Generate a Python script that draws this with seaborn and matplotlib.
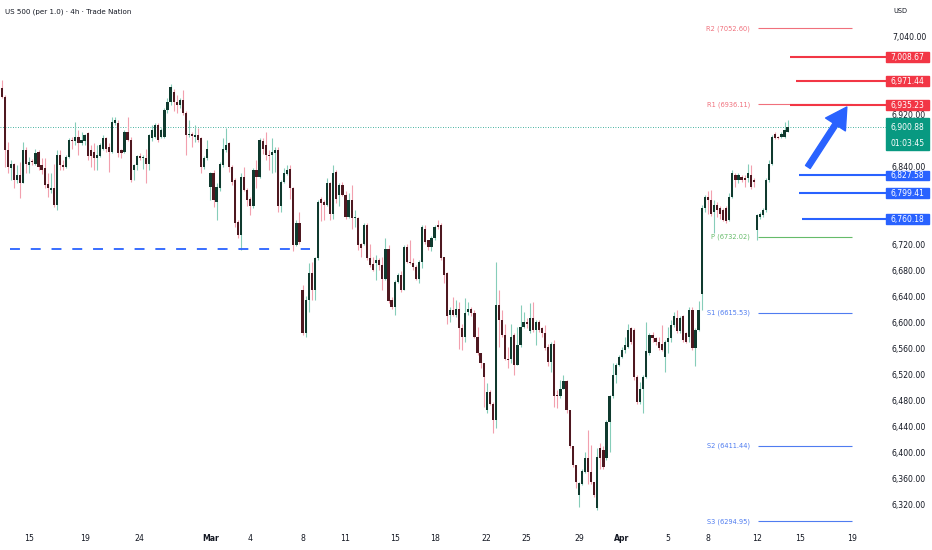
import numpy as np
import pandas as pd
import matplotlib
matplotlib.use("Agg")
import matplotlib.pyplot as plt
import matplotlib.transforms as mtransforms
from matplotlib.patches import Rectangle
import seaborn as sns

# ---- 4h candles, US 500 ----
opens = [
    6961, 6948, 6866, 6838, 6845, 6820, 6828, 6815, 6866, 6842,
    6848, 6845, 6863, 6842, 6838, 6814, 6804, 6808, 6781, 6858,
    6843, 6840, 6855, 6881, 6879, 6886, 6876, 6879, 6892, 6866,
    6863, 6853, 6856, 6868, 6884, 6871, 6863, 6907, 6907, 6866,
    6863, 6894, 6881, 6835, 6843, 6856, 6853, 6853, 6845, 6884,
    6886, 6904, 6886, 6886, 6927, 6940, 6955, 6940, 6935, 6942,
    6922, 6889, 6891, 6886, 6889, 6884, 6840, 6853, 6809, 6830,
    6786, 6807, 6843, 6866, 6876, 6840, 6819, 6755, 6735, 6825,
    6804, 6791, 6779, 6835, 6825, 6879, 6873, 6858, 6858, 6861,
    6866, 6779, 6817, 6829, 6837, 6807, 6720, 6753, 6651, 6584,
    6635, 6676, 6651, 6699, 6791, 6786, 6781, 6815, 6768, 6832,
    6797, 6812, 6797, 6763, 6789, 6761, 6761, 6722, 6722, 6750,
    6699, 6691, 6692, 6697, 6689, 6668, 6714, 6635, 6625, 6663,
    6674, 6651, 6717, 6694, 6692, 6686, 6668, 6694, 6745, 6727,
    6717, 6730, 6750, 6750, 6701, 6676, 6612, 6620, 6612, 6622,
    6592, 6579, 6617, 6622, 6615, 6579, 6553, 6538, 6466, 6494,
    6476, 6451, 6627, 6604, 6581, 6545, 6545, 6581, 6535, 6566,
    6594, 6602, 6587, 6607, 6589, 6602, 6592, 6584, 6563, 6540,
    6568, 6489, 6487, 6499, 6510, 6466, 6410, 6381, 6335, 6353,
    6371, 6392, 6371, 6356, 6315, 6407, 6405, 6392, 6448, 6487,
    6520, 6535, 6548, 6558, 6563, 6592, 6589, 6517, 6479, 6499,
    6517, 6553, 6581, 6576, 6571, 6568, 6548, 6571, 6576, 6597,
    6607, 6587, 6610, 6584, 6579, 6620, 6561, 6589, 6645, 6776,
    6794, 6789, 6771, 6781, 6776, 6774, 6776, 6758, 6794, 6827,
    6820, 6825, 6822, 6822, 6827, 6820, 6743, 6763, 6766, 6774,
    6819, 6845, 6891, 6886, 6886, 6886, 6894,
]
highs = [
    6973, 6950, 6878, 6850, 6846, 6842, 6848, 6878, 6870, 6855,
    6852, 6868, 6866, 6853, 6853, 6830, 6830, 6845, 6866, 6866,
    6850, 6858, 6884, 6886, 6909, 6896, 6894, 6891, 6894, 6873,
    6876, 6873, 6876, 6889, 6886, 6876, 6917, 6917, 6912, 6868,
    6896, 6917, 6886, 6845, 6858, 6861, 6858, 6868, 6891, 6904,
    6907, 6907, 6899, 6930, 6945, 6968, 6960, 6950, 6945, 6958,
    6925, 6912, 6893, 6904, 6899, 6886, 6856, 6881, 6832, 6835,
    6815, 6848, 6884, 6899, 6878, 6842, 6822, 6758, 6830, 6840,
    6807, 6794, 6838, 6850, 6884, 6884, 6894, 6866, 6884, 6871,
    6870, 6819, 6838, 6843, 6843, 6809, 6758, 6771, 6658, 6642,
    6692, 6694, 6702, 6789, 6794, 6789, 6822, 6817, 6843, 6835,
    6815, 6817, 6802, 6799, 6812, 6774, 6763, 6723, 6753, 6753,
    6722, 6702, 6704, 6699, 6702, 6731, 6720, 6640, 6666, 6676,
    6679, 6720, 6722, 6727, 6699, 6689, 6696, 6750, 6750, 6728,
    6733, 6750, 6758, 6753, 6701, 6678, 6625, 6640, 6635, 6632,
    6599, 6638, 6632, 6625, 6620, 6594, 6553, 6538, 6507, 6497,
    6478, 6694, 6650, 6620, 6599, 6563, 6599, 6584, 6594, 6627,
    6617, 6607, 6630, 6632, 6604, 6604, 6594, 6597, 6568, 6571,
    6573, 6497, 6512, 6520, 6512, 6466, 6410, 6381, 6356, 6376,
    6402, 6435, 6412, 6356, 6407, 6415, 6410, 6451, 6489, 6538,
    6538, 6551, 6563, 6579, 6599, 6594, 6592, 6520, 6509, 6520,
    6602, 6584, 6586, 6579, 6579, 6597, 6573, 6594, 6604, 6617,
    6620, 6610, 6612, 6586, 6625, 6625, 6592, 6633, 6781, 6797,
    6802, 6804, 6789, 6786, 6779, 6776, 6779, 6799, 6835, 6830,
    6830, 6828, 6827, 6845, 6843, 6822, 6768, 6771, 6776, 6822,
    6850, 6889, 6894, 6888, 6893, 6909, 6912,
]
lows = [
    6945, 6840, 6830, 6820, 6807, 6815, 6792, 6815, 6830, 6830,
    6843, 6843, 6835, 6829, 6807, 6794, 6799, 6778, 6774, 6835,
    6835, 6838, 6853, 6868, 6874, 6858, 6874, 6874, 6850, 6840,
    6835, 6835, 6855, 6866, 6863, 6832, 6861, 6904, 6855, 6853,
    6861, 6879, 6817, 6820, 6835, 6850, 6837, 6815, 6835, 6879,
    6884, 6878, 6884, 6884, 6922, 6935, 6925, 6922, 6930, 6920,
    6858, 6886, 6871, 6878, 6878, 6830, 6837, 6850, 6789, 6778,
    6758, 6802, 6840, 6863, 6832, 6812, 6748, 6730, 6712, 6802,
    6779, 6766, 6776, 6807, 6822, 6860, 6850, 6835, 6830, 6832,
    6771, 6771, 6815, 6827, 6791, 6710, 6718, 6722, 6581, 6579,
    6617, 6635, 6635, 6697, 6756, 6758, 6779, 6758, 6760, 6784,
    6779, 6795, 6760, 6761, 6745, 6748, 6712, 6702, 6720, 6697,
    6686, 6679, 6666, 6681, 6651, 6666, 6630, 6622, 6612, 6661,
    6648, 6650, 6692, 6691, 6681, 6666, 6661, 6684, 6722, 6712,
    6710, 6728, 6745, 6696, 6661, 6599, 6602, 6610, 6609, 6560,
    6558, 6571, 6612, 6610, 6576, 6551, 6530, 6471, 6461, 6474,
    6430, 6438, 6563, 6579, 6543, 6530, 6538, 6520, 6535, 6563,
    6592, 6592, 6584, 6586, 6566, 6586, 6579, 6558, 6533, 6525,
    6471, 6469, 6484, 6499, 6461, 6407, 6379, 6346, 6317, 6351,
    6369, 6353, 6353, 6333, 6312, 6376, 6376, 6389, 6402, 6484,
    6507, 6533, 6546, 6553, 6561, 6568, 6512, 6476, 6476, 6461,
    6515, 6551, 6571, 6566, 6558, 6556, 6525, 6553, 6571, 6594,
    6584, 6584, 6571, 6569, 6571, 6558, 6533, 6587, 6620, 6770,
    6768, 6765, 6738, 6763, 6760, 6756, 6753, 6756, 6792, 6809,
    6815, 6816, 6809, 6817, 6806, 6809, 6727, 6760, 6763, 6771,
    6817, 6843, 6883, 6882, 6884, 6884, 6893,
]
closes = [
    6948, 6866, 6840, 6845, 6820, 6828, 6815, 6866, 6845, 6848,
    6847, 6861, 6840, 6835, 6812, 6807, 6808, 6781, 6858, 6843,
    6840, 6855, 6881, 6879, 6886, 6876, 6881, 6889, 6856, 6856,
    6853, 6858, 6873, 6884, 6868, 6863, 6909, 6912, 6861, 6861,
    6894, 6881, 6820, 6843, 6856, 6853, 6855, 6845, 6889, 6896,
    6904, 6881, 6896, 6927, 6940, 6963, 6940, 6935, 6942, 6922,
    6889, 6891, 6887, 6889, 6881, 6840, 6853, 6868, 6830, 6789,
    6809, 6845, 6868, 6873, 6840, 6817, 6753, 6735, 6825, 6804,
    6789, 6779, 6835, 6825, 6881, 6868, 6858, 6856, 6863, 6866,
    6779, 6817, 6830, 6835, 6807, 6720, 6753, 6725, 6584, 6635,
    6676, 6651, 6699, 6786, 6784, 6781, 6815, 6768, 6830, 6791,
    6812, 6797, 6763, 6789, 6761, 6763, 6720, 6715, 6750, 6699,
    6689, 6681, 6697, 6689, 6668, 6714, 6633, 6625, 6663, 6674,
    6651, 6717, 6694, 6692, 6686, 6668, 6694, 6748, 6725, 6717,
    6730, 6748, 6748, 6699, 6674, 6610, 6620, 6612, 6622, 6592,
    6579, 6615, 6622, 6615, 6579, 6553, 6538, 6517, 6494, 6476,
    6451, 6627, 6604, 6581, 6545, 6543, 6579, 6535, 6566, 6594,
    6602, 6599, 6607, 6589, 6602, 6589, 6584, 6561, 6540, 6568,
    6487, 6487, 6499, 6510, 6466, 6410, 6381, 6356, 6354, 6373,
    6392, 6371, 6356, 6335, 6394, 6392, 6379, 6448, 6487, 6520,
    6535, 6548, 6558, 6566, 6589, 6571, 6517, 6479, 6499, 6517,
    6556, 6581, 6576, 6571, 6561, 6558, 6571, 6576, 6597, 6610,
    6587, 6607, 6574, 6571, 6620, 6561, 6589, 6620, 6776, 6794,
    6789, 6768, 6781, 6774, 6768, 6758, 6756, 6794, 6830, 6820,
    6827, 6820, 6820, 6830, 6809, 6817, 6766, 6768, 6774, 6819,
    6845, 6886, 6884, 6884, 6891, 6896, 6900.88,
]

# date labels and the bar they sit on
tick_labels = ["15", "19", "24", "Mar", "4", "8", "11", "15", "18",
               "22", "25", "29", "Apr", "5", "8", "12", "15", "19"]
tick_bars = [9, 27, 45, 68, 81, 98, 112, 128, 141,
             158, 171, 188, 202, 217, 230, 246, 260, 277]

# price scale labels (the ones hidden behind the badges are left out)
price_ticks = [7040, 6920, 6840, 6720, 6680, 6640, 6600, 6560,
               6520, 6480, 6440, 6400, 6360, 6320]

pivot_names = ["R2", "R1", "P", "S1", "S2", "S3"]
pivot_values = [7052.60, 6936.11, 6732.02, 6615.53, 6411.44, 6294.95]

resistance_levels = [7008.67, 6971.44, 6935.23]
support_levels = [6827.58, 6799.41, 6760.18]
last_price = 6900.88
countdown = "01:03:45"
old_support = 6713

# ---- style ----
sns.set_theme(style="white")
plt.rcParams["font.family"] = ["DejaVu Sans"]

TXT = "#131722"
RED = "#f23645"
BLUE = "#2962ff"
GREEN = "#089981"
UP_BODY, UP_WICK = "#0f3a2e", "#86cdb9"
DN_BODY, DN_WICK = "#4e1820", "#f2a0ae"

df = pd.DataFrame({"open": opens, "high": highs, "low": lows, "close": closes})
df["bar"] = np.arange(len(df))
df["up"] = df["close"] >= df["open"]

fig = plt.figure(figsize=(9.32, 5.5), dpi=100)
ax = fig.add_axes([0, 22 / 550, 880 / 932, 528 / 550])
ax.set_xlim(-0.55, 286.1)
ax.set_ylim(6284.6, 7096.4)
for s in ax.spines.values():
    s.set_visible(False)
ax.grid(False)

# ---- candles ----
wick_col = np.where(df["up"], UP_WICK, DN_WICK)
body_col = np.where(df["up"], UP_BODY, DN_BODY)
ax.vlines(df["bar"], df["low"], df["high"], colors=wick_col, lw=0.8, zorder=2)
body_h = np.maximum((df["close"] - df["open"]).abs(), 1.3)
body_b = np.minimum(df["open"], df["close"])
ax.bar(df["bar"], body_h, bottom=body_b, width=0.72, color=body_col,
       linewidth=0, zorder=3)

# ---- last price dotted line ----
ax.hlines(last_price, -0.55, 288, colors=GREEN, lw=0.6,
          linestyles=(0, (1, 2)), clip_on=False, zorder=1)

# ---- old support dashed line ----
ax.hlines(old_support, 2.7, 100.4, colors=BLUE, lw=1.3,
          linestyles=(0, (5.5, 6)), zorder=4)

# ---- pivots ----
piv_col = {"R": "#f0707c", "P": "#66bb6a", "S": "#4f7cf0"}
for name, val in zip(pivot_names, pivot_values):
    c = piv_col[name[0]]
    ax.hlines(val, 246.5, 277, colors=c, lw=0.8, zorder=2)
    ax.text(243.7, val, f"{name} ({val:.2f})", ha="right", va="center",
            fontsize=4.8, color=c)

# ---- key levels + price badges ----
blend = mtransforms.blended_transform_factory(ax.transAxes, ax.transData)
res_start = [256.8, 258.7, 256.8]
sup_start = [259.7, 259.7, 260.7]
sup_top = [5.5, 7.5, 7.5]


def badge(price, label, color, top=7.5, bottom=7.5):
    ax.add_patch(Rectangle((886 / 880, price - bottom), 43 / 880, top + bottom,
                           transform=blend, color=color, clip_on=False, zorder=5))
    ax.text(907.5 / 880, price - 0.8, label, transform=blend, ha="center",
            va="center", color="white", fontsize=5.5, clip_on=False, zorder=6)


for lvl, x0 in zip(resistance_levels, res_start):
    ax.hlines(lvl, x0, 288, colors=RED, lw=1.5, clip_on=False, zorder=4)
    badge(lvl, f"{lvl:,.2f}", RED)
for lvl, x0, tp in zip(support_levels, sup_start, sup_top):
    ax.hlines(lvl, x0, 288, colors=BLUE, lw=1.5, clip_on=False, zorder=4)
    badge(lvl, f"{lvl:,.2f}", BLUE, top=tp)

badge(last_price, f"{last_price:,.2f}", GREEN, top=14, bottom=35)
ax.text(907.5 / 880, last_price - 24.6, countdown, transform=blend,
        ha="center", va="center", color="white", fontsize=5.5,
        clip_on=False, zorder=6)

# ---- arrow ----
ax.annotate("", xy=(275.3, 6931.9), xytext=(262.6, 6839.7),
            arrowprops=dict(arrowstyle="simple,head_length=1.5,head_width=1.7,tail_width=0.4",
                            color=BLUE, mutation_scale=10, shrinkA=0, shrinkB=0),
            zorder=6)

# ---- axes ----
ax.yaxis.tick_right()
ax.set_yticks(price_ticks)
ax.set_yticklabels([f"{v:,.2f}" for v in price_ticks])
ax.tick_params(axis="y", length=0, pad=8.6, labelsize=5.6, labelcolor=TXT)
ax.set_xticks(tick_bars)
ax.set_xticklabels(tick_labels)
ax.tick_params(axis="x", length=0, pad=4.5, labelsize=5.6, labelcolor=TXT)
for t in ax.get_xticklabels():
    if t.get_text() in ("Mar", "Apr"):
        t.set_fontweight("bold")

fig.text(5 / 932, 1 - 11.7 / 550, "US 500 (per 1.0) · 4h · Trade Nation",
         fontsize=5.1, va="center", ha="left", color=TXT)
fig.text(900 / 932, 1 - 11 / 550, "USD", fontsize=4.8, va="center",
         ha="center", color=TXT)

fig.savefig("out.png", dpi=100, facecolor="white")
